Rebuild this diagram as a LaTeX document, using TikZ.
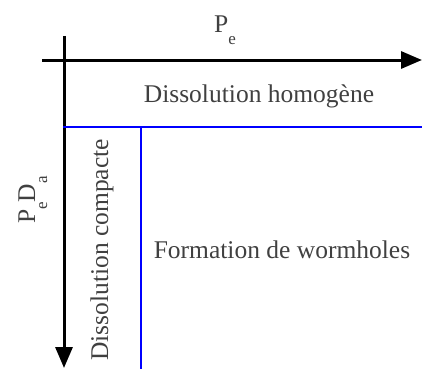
\documentclass[tikz,border=0pt]{standalone}
\usepackage{fontspec}
\setmainfont{Liberation Serif}
\usetikzlibrary{arrows.meta}
\definecolor{txt}{HTML}{404040}
\newcommand{\sbs}[1]{\raisebox{-12pt}{\fontsize{17}{17}\selectfont #1}}
\begin{document}
\begin{tikzpicture}[x=1pt,y=-1pt,
  axis/.style={line width=3pt,-{Triangle[length=21pt,width=17pt]}},
  bline/.style={line width=2pt,blue},
  lbl/.style={text=txt,font=\fontsize{25.5}{27}\selectfont,inner sep=0pt}]
\useasboundingbox (0,0) rectangle (422,369);
\coordinate (hs) at (42,60);
\coordinate (he) at (422,60);
\coordinate (vs) at (64,36);
\coordinate (ve) at (64,368);
\coordinate (b1) at (63,127);
\coordinate (b2) at (422,127);
\coordinate (b3) at (141,127);
\coordinate (b4) at (141,369);
\draw[axis] (hs) -- (he);
\draw[axis] (vs) -- (ve);
\draw[bline] (b1) -- (b2);
\draw[bline] (b3) -- (b4);
\node[lbl,anchor=base] (pe) at (225,33) {P\sbs{e}};
\node[lbl,anchor=base] (dh) at (259,102) {Dissolution homogène};
\node[lbl,anchor=base] (fw) at (282,258) {Formation de wormholes};
\node[lbl,rotate=90,anchor=base] (dc) at (108,250) {Dissolution compacte};
\node[lbl,rotate=90,anchor=base] (pd) at (35,200) {P\sbs{e}D\sbs{a}};
\end{tikzpicture}
\end{document}
